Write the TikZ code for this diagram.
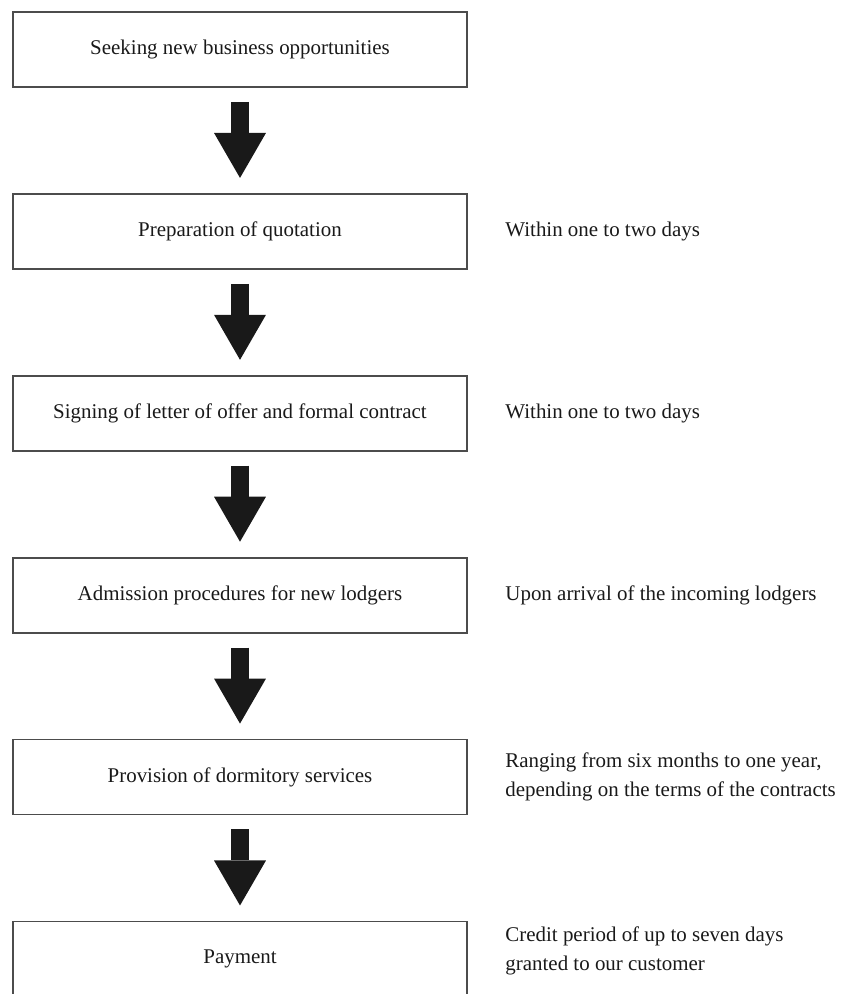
\documentclass[tikz,border=0pt]{standalone}
\usepackage{fontspec}
\setmainfont{Liberation Serif}
\usetikzlibrary{arrows.meta,positioning}

\begin{document}
\begin{tikzpicture}[
        stepbox/.style={draw=black!70,line width=0.9pt,outer sep=0pt,minimum width=8cm,minimum height=1.32cm,align=center,font=\fontsize{10.5}{14.8}\selectfont,text=black!90},
        flow/.style={line width=0.317cm,black!90,-{Triangle[width=0.916cm,length=0.793cm,line width=0pt]},shorten <=0.264cm,shorten >=0.282cm},
        note/.style={inner sep=0pt,align=left,font=\fontsize{10.5}{14.8}\selectfont,text=black!90}
    ]
    
    % --- page frame ---
    \useasboundingbox (0,0) rectangle (14.837,-17.515);
    
    % --- steps ---
    \node[stepbox] (seek) at (4.229,-0.872) {Seeking new business opportunities};
    \node[stepbox,below=1.885cm of seek] (quote) {Preparation of quotation};
    \node[stepbox,below=1.885cm of quote] (sign) {Signing of letter of offer and formal contract};
    \node[stepbox,below=1.885cm of sign] (admit) {Admission procedures for new lodgers};
    \node[stepbox,below=1.885cm of admit] (serve) {Provision of dormitory services};
    \node[stepbox,below=1.885cm of serve] (pay) {Payment};
    
    % --- arrows ---
    \draw[flow] (seek) -- (quote);
    \draw[flow] (quote) -- (sign);
    \draw[flow] (sign) -- (admit);
    \draw[flow] (admit) -- (serve);
    \draw[flow] (serve) -- (pay);
    
    % --- time notes ---
    \node[note,right=0.67cm of quote] (tquote) {Within one to two days};
    \node[note,right=0.67cm of sign] (tsign) {Within one to two days};
    \node[note,right=0.67cm of admit] (tadmit) {Upon arrival of the incoming lodgers};
    \node[note,right=0.67cm of serve] (tserve) {Ranging from six months to one year,\\depending on the terms of the contracts};
    \node[note,right=0.67cm of pay,yshift=0.14cm] (tpay) {Credit period of up to seven days\\granted to our customer};
    
\end{tikzpicture}
\end{document}
